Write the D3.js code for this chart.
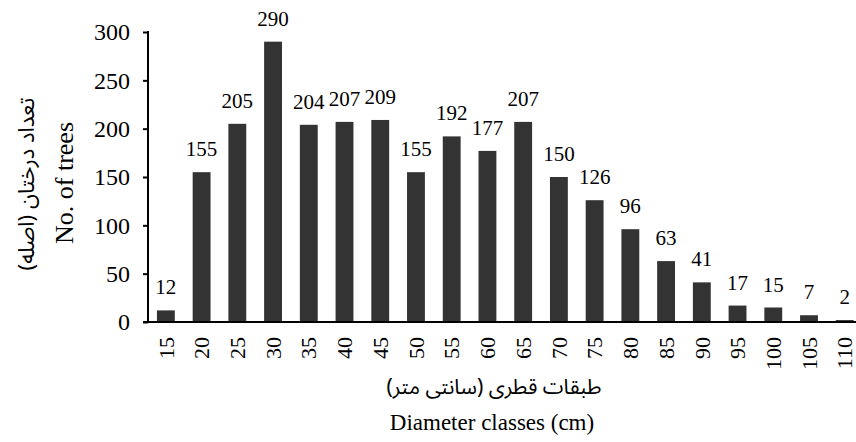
<!DOCTYPE html>
<html><head><meta charset="utf-8">
<script src="https://cdn.jsdelivr.net/npm/d3@7"></script>
<style>body{margin:0;background:#fff;} svg{display:block;}</style>
</head><body>
<script>
const categories = ["15","20","25","30","35","40","45","50","55","60","65","70","75","80","85","90","95","100","105","110"];
const values = [12,155,205,290,204,207,209,155,192,177,207,150,126,96,63,41,17,15,7,2];
const yTicks = [0,50,100,150,200,250,300];

const W = 856, H = 442;
const FONT = "Liberation Serif, Times New Roman, serif";
const FA = "Noto Sans Arabic, DejaVu Sans, sans-serif";
const svg = d3.select("body").append("svg").attr("width", W).attr("height", H)
  .attr("font-family", FONT);
const x = d3.scaleBand().domain(categories).range([148, 862.6]).paddingInner(0.5).paddingOuter(0.25);
const y = d3.scaleLinear().domain([0, 300]).range([322, 32]);

svg.selectAll("rect.bar").data(values).enter().append("rect")
  .attr("x", (d,i) => x(categories[i]))
  .attr("width", x.bandwidth())
  .attr("y", d => y(d))
  .attr("height", d => y(0) - y(d))
  .attr("fill", "#333333");

svg.selectAll("text.val").data(values).enter().append("text")
  .attr("x", (d,i) => x(categories[i]) + x.bandwidth()/2)
  .attr("y", d => y(d) - 16)
  .attr("text-anchor", "middle")
  .attr("font-family", FONT).attr("font-size", 21).attr("fill", "#000")
  .text(d => d);

const yAxis = svg.append("g").attr("transform", "translate(148,0)")
  .call(d3.axisLeft(y).tickValues(yTicks).tickSize(5).tickPadding(13))
  .attr("font-family", FONT).attr("font-size", 24);
yAxis.select(".domain").attr("stroke", "#000").attr("stroke-width", 2).attr("d", "M0,31V322");
yAxis.selectAll(".tick line").attr("stroke-width", 2);
yAxis.selectAll("text").attr("fill", "#000");

const xAxis = svg.append("g").attr("transform", "translate(0,322)")
  .call(d3.axisBottom(x).tickSize(0).tickPadding(0))
  .attr("font-family", FONT).attr("font-size", 22);
xAxis.select(".domain").attr("stroke", "#000").attr("stroke-width", 2).attr("d", "M143,0H862");
xAxis.selectAll("text")
  .attr("fill", "#000")
  .attr("transform", "rotate(-90)")
  .attr("text-anchor", "end")
  .attr("dy", "0.35em")
  .attr("x", -15).attr("y", 0);

svg.append("text").attr("transform", "translate(73,183) rotate(-90)")
  .attr("text-anchor", "middle").attr("font-size", 26).text("No. of trees");
svg.append("text").attr("transform", "translate(34,184) rotate(-90)")
  .attr("text-anchor", "middle").attr("font-family", FA).attr("font-size", 22).text("تعداد درختان (اصله)");
svg.append("text").attr("x", 494).attr("y", 394)
  .attr("text-anchor", "middle").attr("font-family", FA).attr("font-size", 21).text("طبقات قطری (سانتی متر)");
svg.append("text").attr("x", 492).attr("y", 430)
  .attr("text-anchor", "middle").attr("font-size", 23).text("Diameter classes (cm)");
</script>
</body></html>
